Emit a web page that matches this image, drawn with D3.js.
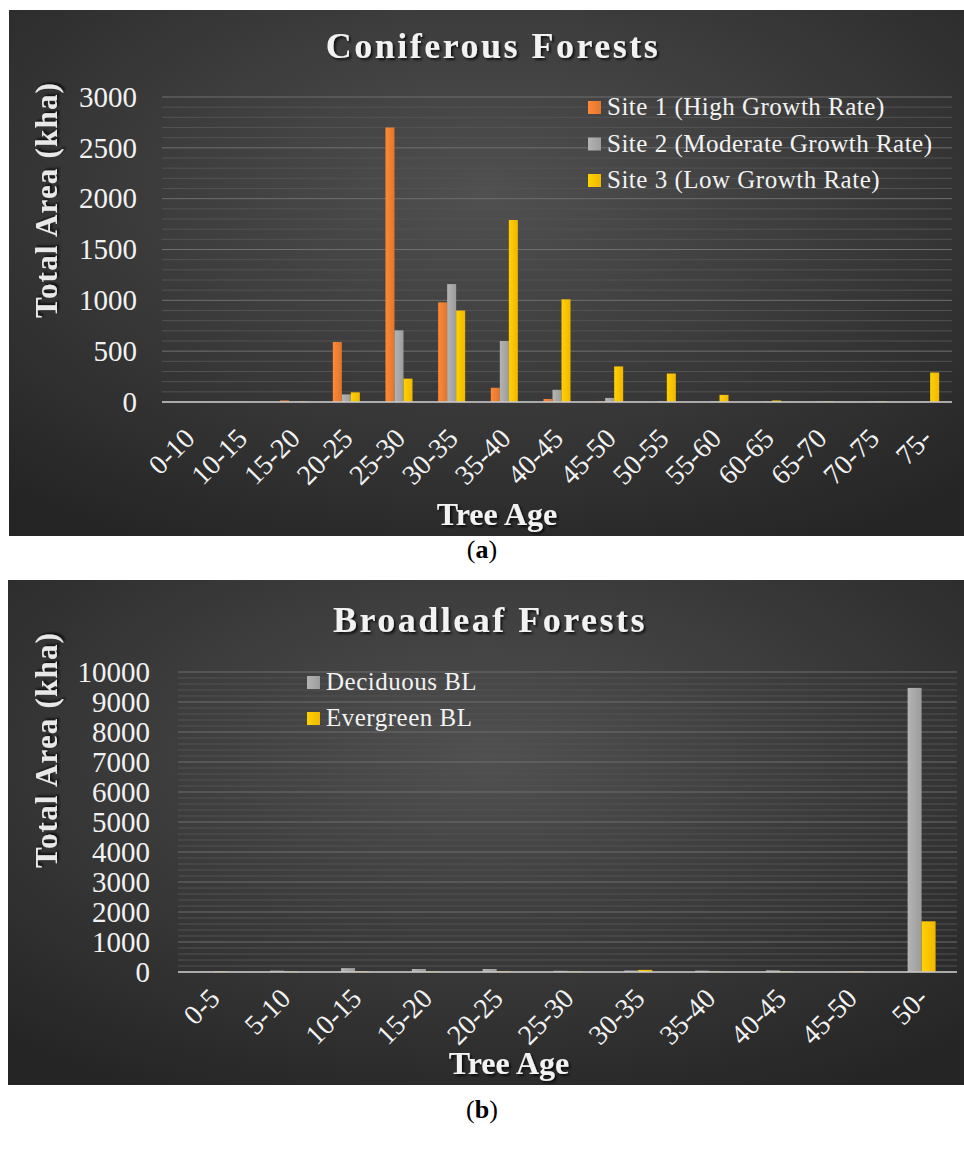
<!DOCTYPE html>
<html>
<head>
<meta charset="utf-8">
<script src="https://cdn.jsdelivr.net/npm/d3@7"></script>
<style>
  body { margin: 0; background: #fff; }
  svg { display: block; }
  svg text { font-family: "Liberation Serif", "Times New Roman", "DejaVu Serif", serif; }
</style>
</head>
<body>
<div id="chart"></div>
<script>
// ---- data (a) coniferous ----
const coniferAges = ["0-10", "10-15", "15-20", "20-25", "25-30", "30-35", "35-40", "40-45",
  "45-50", "50-55", "55-60", "60-65", "65-70", "70-75", "75-"]
const site1 = [0, 0, 15, 590, 2700, 980, 140, 30, 5, 0, 0, 0, 0, 0, 0]
const site2 = [0, 0, 3, 75, 705, 1160, 600, 120, 40, 5, 5, 4, 3, 3, 3]
const site3 = [0, 0, 5, 95, 230, 900, 1790, 1010, 350, 280, 70, 15, 5, 5, 290]
const coniferSeries = ["Site 1 (High Growth Rate)", "Site 2 (Moderate Growth Rate)", "Site 3 (Low Growth Rate)"]
const coniferTicks = [0, 500, 1000, 1500, 2000, 2500, 3000]

// ---- data (b) broadleaf ----
const broadAges = ["0-5", "5-10", "10-15", "15-20", "20-25", "25-30", "30-35", "35-40", "40-45", "45-50", "50-"]
const deciduous = [8, 45, 130, 100, 100, 40, 50, 45, 55, 10, 9470]
const evergreen = [20, 15, 20, 15, 20, 15, 70, 15, 20, 20, 1690]
const broadSeries = ["Deciduous BL", "Evergreen BL"]
const broadTicks = [0, 1000, 2000, 3000, 4000, 5000, 6000, 7000, 8000, 9000, 10000]

const colors = {orange: "#ed7d31", gray: "#a5a5a5", yellow: "#ffc000"}

const svg = d3.select("#chart").append("svg")
  .attr("width", 964)
  .attr("height", 1151)

const defs = svg.append("defs")
const bg = defs.append("radialGradient").attr("id", "bg")
  .attr("cx", "50%").attr("cy", "35%").attr("r", "75%")
bg.append("stop").attr("offset", "0%").attr("stop-color", "#505050")
bg.append("stop").attr("offset", "100%").attr("stop-color", "#252525")

defs.append("filter").attr("id", "shadow")
  .attr("x", "-10%").attr("y", "-30%").attr("width", "130%").attr("height", "160%")
  .append("feDropShadow")
  .attr("dx", 2).attr("dy", 2).attr("stdDeviation", 1.2)
  .attr("flood-color", "#000").attr("flood-opacity", 0.7)

// bar gradients
Object.entries(colors).forEach(([k, c]) => {
  const grad = defs.append("linearGradient").attr("id", "grad-" + k)
    .attr("x1", "0%").attr("x2", "100%").attr("y1", "0%").attr("y2", "0%")
  grad.append("stop").attr("offset", "0%").attr("stop-color", d3.color(c).brighter(0.25))
  grad.append("stop").attr("offset", "100%").attr("stop-color", d3.color(c).darker(0.15))
})

function drawChart(cfg) {
  const g = svg.append("g")

  g.append("rect")
    .attr("x", cfg.panel[0]).attr("y", cfg.panel[1])
    .attr("width", cfg.panel[2]).attr("height", cfg.panel[3])
    .attr("fill", "url(#bg)")

  const x = d3.scaleBand()
    .domain(cfg.categories)
    .range([cfg.left, cfg.right])
    .paddingInner(cfg.pad)
    .paddingOuter(cfg.pad / 2)

  const xSub = d3.scaleBand()
    .domain(d3.range(cfg.values.length))
    .range([0, x.bandwidth()])

  const y = d3.scaleLinear()
    .domain([0, cfg.max])
    .range([cfg.bottom, cfg.top])

  // minor + major gridlines
  g.append("g").selectAll("line")
    .data(d3.range(0, cfg.max + 1, cfg.minor))
    .join("line")
    .attr("x1", cfg.left).attr("x2", cfg.right)
    .attr("y1", d => y(d)).attr("y2", d => y(d))
    .attr("stroke", d => d % cfg.major === 0 ? "#6f6f6f" : "#525252")
    .attr("stroke-width", 1)

  // bars
  cfg.values.forEach((vals, si) => {
    g.append("g").selectAll("rect")
      .data(vals)
      .join("rect")
      .attr("x", (d, i) => x(cfg.categories[i]) + xSub(si))
      .attr("y", d => y(d))
      .attr("width", xSub.bandwidth())
      .attr("height", d => cfg.bottom - y(d))
      .attr("fill", "url(#grad-" + cfg.colors[si] + ")")
  })

  // x axis line
  g.append("line")
    .attr("x1", cfg.left).attr("x2", cfg.right)
    .attr("y1", cfg.bottom).attr("y2", cfg.bottom)
    .attr("stroke", "#c8c8c8").attr("stroke-width", 1.5)

  // y axis labels
  const yAxis = g.append("g")
    .attr("transform", "translate(" + cfg.left + ",0)")
    .call(d3.axisLeft(y).tickValues(cfg.ticks).tickSize(0).tickPadding(cfg.tickPad).tickFormat(d3.format("d")))
  yAxis.attr("font-family", null)
  yAxis.select(".domain").remove()
  yAxis.selectAll("text")
    .attr("fill", "#f2f2f2")
    .attr("font-size", 29)

  // x tick labels (rotated)
  g.append("g").selectAll("text")
    .data(cfg.categories)
    .join("text")
    .attr("transform", d => "translate(" + (x(d) + x.bandwidth() / 2 + 8) + "," + (cfg.bottom + cfg.labelDy) + ") rotate(-45)")
    .attr("text-anchor", "end")
    .attr("fill", "#f2f2f2")
    .attr("font-size", 28)
    .text(d => d)

  // title
  g.append("text")
    .attr("x", cfg.titleX).attr("y", cfg.titleY)
    .attr("text-anchor", "middle")
    .attr("font-size", 36).attr("font-weight", "bold")
    .attr("letter-spacing", 2.5)
    .attr("fill", "#f2f2f2")
    .attr("filter", "url(#shadow)")
    .text(cfg.title)

  // axis titles
  g.append("text")
    .attr("transform", "translate(57," + cfg.yTitleY + ") rotate(-90)")
    .attr("text-anchor", "middle")
    .attr("font-size", 31).attr("font-weight", "bold")
    .attr("letter-spacing", 1.2)
    .attr("fill", "#e8e8e8")
    .attr("filter", "url(#shadow)")
    .text("Total Area (kha)")

  g.append("text")
    .attr("x", cfg.xTitleX).attr("y", cfg.xTitleY)
    .attr("text-anchor", "middle")
    .attr("font-size", 32).attr("font-weight", "bold")
    .attr("fill", "#f2f2f2")
    .attr("filter", "url(#shadow)")
    .text("Tree Age")

  // legend
  const leg = g.append("g").selectAll("g")
    .data(cfg.series)
    .join("g")
    .attr("transform", (d, i) => "translate(" + cfg.legendX + "," + (cfg.legendY + i * cfg.legendStep) + ")")
  leg.append("rect")
    .attr("x", 0).attr("y", -14).attr("width", 13).attr("height", 13)
    .attr("fill", (d, i) => "url(#grad-" + cfg.colors[i] + ")")
  leg.append("text")
    .attr("x", 19).attr("y", 0)
    .attr("font-size", 25).attr("letter-spacing", 0.5)
    .attr("fill", "#f2f2f2")
    .text(d => d)

  // caption under the panel
  const cap = svg.append("text")
    .attr("x", 482).attr("y", cfg.captionY)
    .attr("text-anchor", "middle")
    .attr("font-size", 26).attr("fill", "#000")
  cap.append("tspan").text("(")
  cap.append("tspan").attr("font-weight", "bold").text(cfg.caption)
  cap.append("tspan").text(")")
}

drawChart({
  panel: [9, 10, 955, 526],
  categories: coniferAges,
  values: [site1, site2, site3],
  colors: ["orange", "gray", "yellow"],
  series: coniferSeries,
  ticks: coniferTicks,
  max: 3000, major: 500, minor: 100,
  left: 162, right: 952, top: 97, bottom: 402,
  pad: 0.487, tickPad: 25, labelDy: 38,
  title: "Coniferous Forests", titleX: 493, titleY: 58,
  yTitleY: 200, xTitleX: 497, xTitleY: 525,
  legendX: 588, legendY: 115, legendStep: 36.5,
  caption: "a", captionY: 558
})

drawChart({
  panel: [8, 580, 956, 505],
  categories: broadAges,
  values: [deciduous, evergreen],
  colors: ["gray", "yellow"],
  series: broadSeries,
  ticks: broadTicks,
  max: 10000, major: 1000, minor: 200,
  left: 178, right: 957, top: 672, bottom: 972,
  pad: 0.605, tickPad: 28, labelDy: 28,
  title: "Broadleaf Forests", titleX: 490, titleY: 632,
  yTitleY: 750, xTitleX: 509, xTitleY: 1074,
  legendX: 307, legendY: 690, legendStep: 36,
  caption: "b", captionY: 1118
})
</script>
</body>
</html>
